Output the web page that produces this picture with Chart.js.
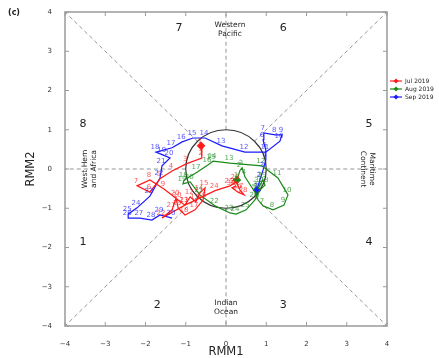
<!DOCTYPE html>
<html lang="en">
<head>
<meta charset="UTF-8">
<title>RMM phase diagram</title>
<script src="https://cdn.jsdelivr.net/npm/chart.js@4.4.1/dist/chart.umd.min.js"></script>
<style>
  html, body { margin: 0; padding: 0; background: #fff; }
</style>
</head>
<body>
<canvas id="mjo" width="439" height="358"></canvas>
<script>
// tick values on both axes
const axisTicks = [-4, -3, -2, -1, 0, 1, 2, 3, 4];
const months = ['Jul 2019', 'Aug 2019', 'Sep 2019'];
const colors = ['#ff1a1a', '#1a8a1a', '#1a1aff'];

// daily RMM1 / RMM2 values
const julX = [-0.62, -0.60, -0.99, -1.34, -1.64, -1.89, -2.21, -1.89, -1.54, -1.19, -1.02, -0.89, -0.75, -0.65, -0.52, -0.57,
              -0.77, -1.02, -1.19, -1.24, -1.34, -1.59, -1.02, -0.27, 0.10, 0.25, 0.35, 0.45, 0.30, 0.15, 0.25];
const julY = [0.59, 0.28, 0.13, -0.05, -0.25, -0.59, -0.43, -0.28, -0.51, -0.79, -0.92, -0.71, -0.84, -0.61, -0.48, -0.79,
              -1.04, -1.17, -0.99, -0.74, -1.04, -1.25, -0.92, -0.55, -0.43, -0.33, -0.54, -0.66, -0.59, -0.48, -0.43];

const augX = [0.27, 0.35, 0.40, 0.47, 0.72, 0.80, 0.92, 1.17, 1.44, 1.54, 1.29, 0.89, 0.10, -0.32, -0.35, -0.45,
              -0.72, -1.04, -1.07, -0.89, -0.65, -0.27, 0.10, 0.25, 0.50, 0.72, 0.84, 0.97, 0.92, 0.84, 0.80];
const augY = [-0.28, -0.03, 0.03, -0.20, -0.59, -0.79, -0.94, -1.04, -0.92, -0.66, -0.23, 0.08, 0.15, 0.20, 0.18, 0.10,
              -0.08, -0.28, -0.38, -0.33, -0.66, -0.94, -1.12, -1.15, -1.04, -0.79, -0.54, -0.41, -0.28, -0.41, -0.51];

const sepX = [0.77, 0.84, 0.92, 0.99, 0.99, 0.92, 0.94, 1.22, 1.39, 1.34, 0.99, 0.47, -0.10, -0.52, -0.82, -1.09,
              -1.34, -1.74, -1.57, -1.39, -1.59, -1.64, -1.89, -2.21, -2.43, -2.43, -2.14, -1.84, -1.64, -1.34];
const sepY = [-0.54, -0.28, -0.03, 0.23, 0.48, 0.74, 0.92, 0.87, 0.87, 0.71, 0.43, 0.43, 0.59, 0.79, 0.79, 0.69,
              0.54, 0.43, 0.36, 0.28, 0.08, -0.23, -0.69, -0.99, -1.15, -1.25, -1.25, -1.30, -1.17, -1.25];

// phase numbers and where they sit
const phaseNums = ['1', '2', '3', '4', '5', '6', '7', '8'];
const phasePos = [[-3.55, -1.86], [-1.71, -3.47], [1.42, -3.47], [3.55, -1.86],
                  [3.55, 1.15], [1.42, 3.59], [-1.17, 3.59], [-3.55, 1.15]];

const seriesX = [julX, augX, sepX];
const seriesY = [julY, augY, sepY];

function toPoints(xs, ys) {
    return xs.map((x, i) => ({ x: x, y: ys[i] }));
}

function fmt(v) {
    return v < 0 ? '\u2212' + Math.abs(v) : String(v);
}

const FONT = '"DejaVu Sans", sans-serif';

const decor = {
    id: 'decor',
    beforeDatasetsDraw(chart) {
        const ctx = chart.ctx;
        const sx = chart.scales.x, sy = chart.scales.y;
        const P = (x, y) => [sx.getPixelForValue(x), sy.getPixelForValue(y)];
        const r = Math.SQRT1_2;
        const segs = [
            [0, 1, 0, 4], [0, -1, 0, -4], [1, 0, 4, 0], [-1, 0, -4, 0],
            [r, r, 4, 4], [-r, r, -4, 4], [r, -r, 4, -4], [-r, -r, -4, -4]
        ];
        ctx.save();
        ctx.strokeStyle = '#7a7a7a';
        ctx.lineWidth = 0.8;
        ctx.setLineDash([4, 3]);
        segs.forEach(s => {
            const a = P(s[0], s[1]), b = P(s[2], s[3]);
            ctx.beginPath();
            ctx.moveTo(a[0], a[1]);
            ctx.lineTo(b[0], b[1]);
            ctx.stroke();
        });
        ctx.setLineDash([]);
        // unit circle
        const c = P(0, 0);
        const rx = sx.getPixelForValue(1) - c[0];
        const ry = c[1] - sy.getPixelForValue(1);
        ctx.strokeStyle = '#333';
        ctx.lineWidth = 1.2;
        ctx.beginPath();
        ctx.ellipse(c[0], c[1], rx, ry, 0, 0, Math.PI * 2);
        ctx.stroke();
        ctx.restore();
    },
    afterDatasetsDraw(chart) {
        const ctx = chart.ctx;
        const area = chart.chartArea;
        const sx = chart.scales.x, sy = chart.scales.y;
        ctx.save();

        // day numbers next to each point
        ctx.font = '7px ' + FONT;
        ctx.textAlign = 'center';
        ctx.textBaseline = 'bottom';
        chart.data.datasets.forEach((ds, i) => {
            const meta = chart.getDatasetMeta(i);
            ctx.fillStyle = ds.borderColor;
            ctx.globalAlpha = 0.75;
            meta.data.forEach((pt, j) => {
                ctx.fillText(String(j + 1), pt.x - 1, pt.y - 1);
            });
        });
        ctx.globalAlpha = 1;

        // frame and inward ticks
        ctx.strokeStyle = '#9a9a9a';
        ctx.lineWidth = 1.5;
        ctx.strokeRect(area.left, area.top, area.right - area.left, area.bottom - area.top);
        ctx.lineWidth = 1;
        axisTicks.forEach(v => {
            const px = sx.getPixelForValue(v), py = sy.getPixelForValue(v);
            ctx.beginPath();
            ctx.moveTo(px, area.bottom); ctx.lineTo(px, area.bottom - 4);
            ctx.moveTo(px, area.top); ctx.lineTo(px, area.top + 4);
            ctx.moveTo(area.left, py); ctx.lineTo(area.left + 4, py);
            ctx.moveTo(area.right, py); ctx.lineTo(area.right - 4, py);
            ctx.stroke();
        });

        // phase numbers
        ctx.fillStyle = '#222';
        ctx.font = '11px ' + FONT;
        ctx.textAlign = 'center';
        ctx.textBaseline = 'middle';
        phaseNums.forEach((n, i) => {
            ctx.fillText(n, sx.getPixelForValue(phasePos[i][0]), sy.getPixelForValue(phasePos[i][1]));
        });

        // region names
        ctx.font = '7.5px ' + FONT;
        const cx = sx.getPixelForValue(0);
        ctx.fillText('Western', cx + 4, 25);
        ctx.fillText('Pacific', cx + 4, 34);
        ctx.fillText('Indian', cx, 303);
        ctx.fillText('Ocean', cx, 312);
        const cy = sy.getPixelForValue(0);
        ctx.save();
        ctx.translate(90, cy);
        ctx.rotate(-Math.PI / 2);
        ctx.fillText('West Hem', 0, -5);
        ctx.fillText('and Africa', 0, 4);
        ctx.restore();
        ctx.save();
        ctx.translate(367, cy);
        ctx.rotate(Math.PI / 2);
        ctx.fillText('Maritime', 0, -5);
        ctx.fillText('Continent', 0, 4);
        ctx.restore();

        // axis titles and panel letter
        ctx.font = '11.5px ' + FONT;
        ctx.fillStyle = '#222';
        ctx.fillText('RMM1', cx, 352);
        ctx.save();
        ctx.translate(31, cy);
        ctx.rotate(-Math.PI / 2);
        ctx.fillText('RMM2', 0, 0);
        ctx.restore();
        ctx.font = 'bold 8px ' + FONT;
        ctx.fillText('(c)', 14, 13);

        // legend
        ctx.font = '6px ' + FONT;
        ctx.textAlign = 'left';
        months.forEach((m, i) => {
            const y = 81 + i * 8;
            ctx.strokeStyle = colors[i];
            ctx.fillStyle = colors[i];
            ctx.lineWidth = 1.2;
            ctx.beginPath();
            ctx.moveTo(390, y); ctx.lineTo(402, y);
            ctx.stroke();
            ctx.beginPath();
            ctx.moveTo(396, y - 2.5); ctx.lineTo(398.5, y); ctx.lineTo(396, y + 2.5); ctx.lineTo(393.5, y);
            ctx.closePath();
            ctx.fill();
            ctx.fillStyle = '#222';
            ctx.fillText(m, 405, y);
        });
        ctx.restore();
    }
};

const datasets = months.map((m, i) => ({
    label: m,
    data: toPoints(seriesX[i], seriesY[i]),
    borderColor: colors[i],
    backgroundColor: colors[i],
    borderWidth: 1.2,
    showLine: true,
    tension: 0,
    pointStyle: 'rectRot',
    pointRadius: ctx => ctx.dataIndex === 0 ? 3.5 : 0,
    pointHoverRadius: 0
}));

const config = {
    type: 'scatter',
    data: { datasets: datasets },
    options: {
        responsive: false,
        animation: false,
        layout: { padding: { top: 12, right: 52, left: 0, bottom: 0 } },
        plugins: {
            legend: { display: false },
            tooltip: { enabled: false }
        },
        scales: {
            x: {
                type: 'linear',
                min: -4, max: 4,
                grid: { display: false },
                border: { display: false },
                ticks: {
                    stepSize: 1,
                    padding: 6,
                    color: '#333',
                    font: { size: 7, family: FONT },
                    callback: v => fmt(v)
                },
                afterFit: s => { s.height = 32; }
            },
            y: {
                type: 'linear',
                min: -4, max: 4,
                grid: { display: false },
                border: { display: false },
                ticks: {
                    stepSize: 1,
                    padding: 5,
                    color: '#333',
                    font: { size: 7, family: FONT },
                    callback: v => fmt(v)
                },
                afterFit: s => { s.width = 65; }
            }
        }
    },
    plugins: [decor]
};

const mjoChart = new Chart(document.getElementById('mjo'), config);
</script>
</body>
</html>
